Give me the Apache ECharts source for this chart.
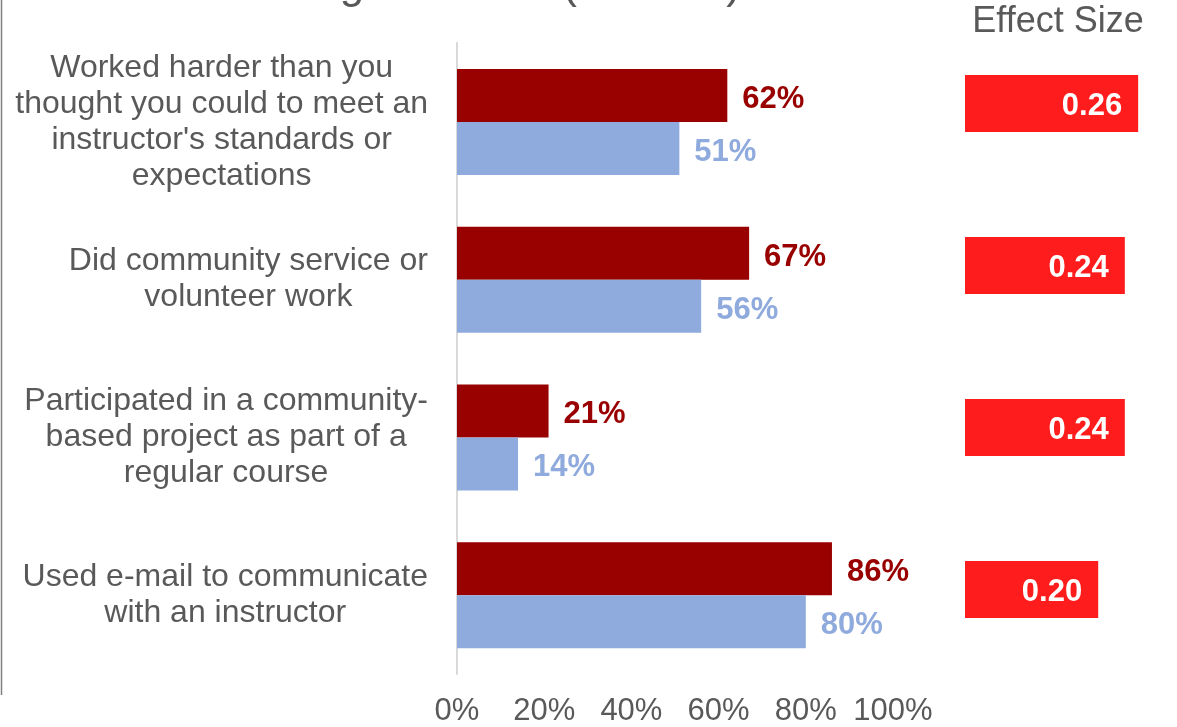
<!DOCTYPE html>
<html>
<head>
<meta charset="utf-8">
<script src="https://cdn.jsdelivr.net/npm/echarts@6/dist/echarts.min.js"></script>
<style>
html,body{margin:0;padding:0;background:#fff;}
#chart{width:1177px;height:727px;}
</style>
</head>
<body>
<div id="chart"></div>
<script>
var categories = [
  "Worked harder than you\nthought you could to meet an\ninstructor's standards or\nexpectations",
  "Did community service or\nvolunteer work",
  "Participated in a community-\nbased project as part of a\nregular course",
  "Used e-mail to communicate\nwith an instructor"
];
var groupA = [62, 67, 21, 86];
var groupB = [51, 56, 14, 80];
var effectSizes = [0.26, 0.24, 0.24, 0.20];
var xTicks = [0, 20, 40, 60, 80, 100];

var FONT = "'Liberation Sans', Arial, sans-serif";
var GREY = '#595959';

var chart = echarts.init(document.getElementById('chart'), null, {renderer: 'canvas'});
chart.setOption({
  backgroundColor: '#ffffff',
  animation: false,
  textStyle: {fontFamily: FONT},
  graphic: [
    {type: 'line', shape: {x1: 1.5, y1: 0, x2: 1.5, y2: 695}, style: {stroke: '#808080', lineWidth: 1.5}},
    {type: 'text', x: 193, y: -14, style: {text: 'Learning Activities (Seniors)', font: "44px 'Liberation Sans', Arial, sans-serif", fill: GREY, verticalAlign: 'middle'}},
    {type: 'text', x: 1058, y: 22, style: {text: 'Effect Size', font: "36px 'Liberation Sans', Arial, sans-serif", fill: GREY, align: 'center', verticalAlign: 'middle'}}
  ],
  grid: [
    {left: 457, width: 436, top: 43, height: 633, containLabel: false},
    {left: 965, width: 199.8, top: 22.5, height: 648, containLabel: false}
  ],
  xAxis: [
    {
      gridIndex: 0, type: 'value', min: xTicks[0], max: xTicks[xTicks.length - 1], interval: 20,
      axisLine: {show: false}, axisTick: {show: false}, splitLine: {show: false},
      axisLabel: {formatter: '{value}%', fontSize: 31, color: GREY, margin: 22, fontFamily: FONT}
    },
    {
      gridIndex: 1, type: 'value', min: 0, max: 0.3, show: false,
      splitLine: {show: false}
    }
  ],
  yAxis: [
    {
      gridIndex: 0, type: 'category', data: categories, inverse: true,
      axisLine: {show: true, lineStyle: {color: '#D9D9D9', width: 2}},
      axisTick: {show: false},
      axisLabel: {
        align: 'right', margin: 29,
        formatter: function (v) {
          return v.split('\n').map(function (l) { return '{c|' + l + '}'; }).join('\n');
        },
        rich: {c: {align: 'center', fontSize: 32, lineHeight: 36, color: GREY, fontFamily: FONT}}
      }
    },
    {
      gridIndex: 1, type: 'category', data: categories, inverse: true, show: false
    }
  ],
  series: [
    {
      type: 'bar', xAxisIndex: 0, yAxisIndex: 0, data: groupA, barWidth: 53, barGap: '0%',
      itemStyle: {color: '#990000'},
      label: {show: true, position: 'right', distance: 15, offset: [0, 4], formatter: '{c}%', color: '#990000', fontSize: 31, fontWeight: 'bold', fontFamily: FONT}
    },
    {
      type: 'bar', xAxisIndex: 0, yAxisIndex: 0, data: groupB, barWidth: 53, barGap: '0%',
      itemStyle: {color: '#8FAADC'},
      label: {show: true, position: 'right', distance: 15, offset: [0, 4], formatter: '{c}%', color: '#8FAADC', fontSize: 31, fontWeight: 'bold', fontFamily: FONT}
    },
    {
      type: 'bar', xAxisIndex: 1, yAxisIndex: 1, data: effectSizes, barWidth: 57,
      itemStyle: {color: '#FF1C1C'},
      label: {show: true, position: 'insideRight', distance: 16, offset: [0, 3], color: '#ffffff', fontSize: 31, fontWeight: 'bold', fontFamily: FONT,
        formatter: function (p) { return p.value.toFixed(2); }}
    }
  ]
});
</script>
</body>
</html>
